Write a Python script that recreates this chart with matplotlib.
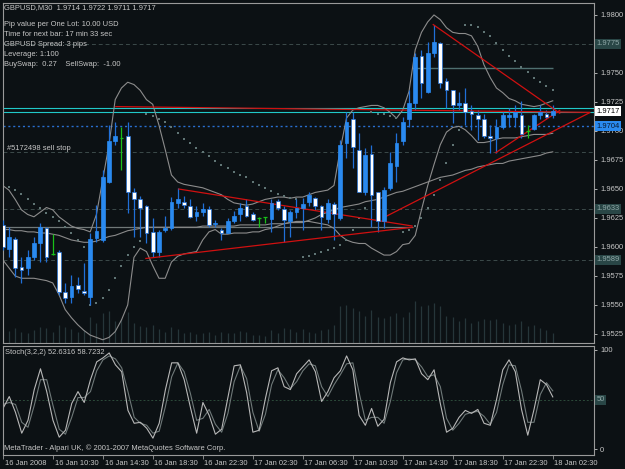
"""MetaTrader 4 style GBPUSD M30 chart with Bollinger bands, SAR and Stoch(3,2,2)."""
import matplotlib
matplotlib.use("Agg")
import matplotlib.pyplot as plt
import matplotlib.transforms as mtrans
import numpy as np

# ---------------------------------------------------------------------------
# Data (one value per M30 bar, bar 0 = 16 Jan 06:30)
# ---------------------------------------------------------------------------
OPEN = [1.9619, 1.9598, 1.9607, 1.9583, 1.9582, 1.9591, 1.9603, 1.9616, 1.9594, 1.9596,
        1.9561, 1.9557, 1.9567, 1.9562, 1.9557, 1.9608, 1.9606, 1.9656, 1.9691, 1.9694,
        1.9696, 1.9647, 1.9641, 1.9635, 1.9613, 1.9596, 1.9615, 1.9616, 1.9638, 1.9639,
        1.9635, 1.9627, 1.9630, 1.9633, 1.9620, 1.9615, 1.9612, 1.9622, 1.9628, 1.9635,
        1.9628, 1.9625, 1.9626, 1.9624, 1.9640, 1.9633, 1.9622, 1.9630, 1.9634, 1.9639,
        1.9642, 1.9635, 1.9624, 1.9637, 1.9625, 1.9690, 1.9710, 1.9684, 1.9647, 1.9680,
        1.9647, 1.9622, 1.9651, 1.9670, 1.9691, 1.9710, 1.9724, 1.9765, 1.9734, 1.9767,
        1.9776, 1.9743, 1.9735, 1.9722, 1.9724, 1.9717, 1.9714, 1.9710, 1.9696, 1.9694,
        1.9703, 1.9712, 1.9712, 1.9714, 1.9700, 1.9702, 1.9714, 1.9715, 1.9714]
HIGH = [1.9623, 1.9617, 1.9609, 1.9591, 1.9597, 1.9609, 1.9621, 1.9617, 1.9611, 1.9597,
        1.9569, 1.9576, 1.9574, 1.9586, 1.9612, 1.9636, 1.9666, 1.9705, 1.9708, 1.9703,
        1.9708, 1.9651, 1.9644, 1.9636, 1.9625, 1.9615, 1.9627, 1.9643, 1.9651, 1.9644,
        1.9641, 1.9635, 1.9638, 1.9635, 1.9623, 1.9616, 1.9625, 1.9631, 1.9638, 1.9641,
        1.9630, 1.9626, 1.9626, 1.9641, 1.9641, 1.9635, 1.9632, 1.9641, 1.9642, 1.9647,
        1.9643, 1.9636, 1.9641, 1.9639, 1.9692, 1.9716, 1.9716, 1.9698, 1.9685, 1.9688,
        1.9647, 1.9652, 1.9682, 1.9698, 1.9712, 1.9735, 1.9767, 1.9770, 1.9777, 1.9791,
        1.9777, 1.9746, 1.9735, 1.9734, 1.9737, 1.9722, 1.9718, 1.9715, 1.9705, 1.9710,
        1.9716, 1.9720, 1.9722, 1.9726, 1.9705, 1.9715, 1.9722, 1.9718, 1.9722]
LOW = [1.9597, 1.9591, 1.9574, 1.9569, 1.9576, 1.9589, 1.9587, 1.9587, 1.9593, 1.9559,
       1.9552, 1.9552, 1.9560, 1.9559, 1.9550, 1.9604, 1.9604, 1.9655, 1.9688, 1.9666,
       1.9629, 1.9609, 1.9609, 1.9603, 1.9591, 1.9591, 1.9613, 1.9615, 1.9634, 1.9634,
       1.9625, 1.9622, 1.9627, 1.9617, 1.9617, 1.9606, 1.9612, 1.9621, 1.9622, 1.9626,
       1.9622, 1.9617, 1.9621, 1.9613, 1.9632, 1.9604, 1.9609, 1.9625, 1.9615, 1.9635,
       1.9632, 1.9615, 1.9621, 1.9606, 1.9623, 1.9677, 1.9668, 1.9647, 1.9645, 1.9617,
       1.9613, 1.9616, 1.9649, 1.9656, 1.9688, 1.9703, 1.9718, 1.9728, 1.9733, 1.9764,
       1.9737, 1.9720, 1.9707, 1.9718, 1.9705, 1.9701, 1.9692, 1.9694, 1.9681, 1.9681,
       1.9702, 1.9703, 1.9703, 1.9694, 1.9694, 1.9701, 1.9710, 1.9710, 1.9711]
CLOSE = [1.9600, 1.9609, 1.9582, 1.9580, 1.9591, 1.9603, 1.9617, 1.9591, 1.9594, 1.9561,
         1.9556, 1.9566, 1.9564, 1.9560, 1.9607, 1.9614, 1.9660, 1.9691, 1.9696, 1.9694,
         1.9647, 1.9641, 1.9634, 1.9612, 1.9596, 1.9613, 1.9616, 1.9639, 1.9641, 1.9636,
         1.9626, 1.9630, 1.9633, 1.9619, 1.9621, 1.9612, 1.9622, 1.9627, 1.9634, 1.9627,
         1.9623, 1.9625, 1.9626, 1.9638, 1.9634, 1.9623, 1.9630, 1.9634, 1.9637, 1.9645,
         1.9635, 1.9626, 1.9638, 1.9628, 1.9688, 1.9708, 1.9686, 1.9647, 1.9679, 1.9645,
         1.9622, 1.9649, 1.9672, 1.9690, 1.9708, 1.9724, 1.9764, 1.9741, 1.9767, 1.9777,
         1.9741, 1.9735, 1.9722, 1.9724, 1.9716, 1.9715, 1.9710, 1.9696, 1.9694, 1.9703,
         1.9714, 1.9714, 1.9716, 1.9697, 1.9700, 1.9714, 1.9716, 1.9712, 1.9717]
VOLUME = [310, 280, 350, 260, 240, 300, 380, 360, 270, 420, 380, 330, 250, 300, 620, 480, 700, 760,
          520, 560, 720, 480, 400, 380, 420, 330, 260, 380, 340, 240, 260, 220, 230, 270, 200, 260,
          240, 230, 280, 260, 200, 180, 160, 300, 230, 360, 320, 250, 330, 260, 230, 300, 340, 420,
          860, 900, 820, 760, 640, 780, 620, 600, 640, 700, 620, 720, 980, 860, 900, 940, 860, 640,
          620, 520, 600, 460, 520, 560, 540, 560, 480, 420, 440, 520, 400, 420, 360, 300, 240]

BB_UPPER = [1.9653, 1.9649, 1.9641, 1.9632, 1.9628, 1.9626, 1.9630, 1.9634, 1.9632, 1.9626,
            1.9622, 1.9618, 1.9616, 1.9615, 1.9613, 1.9628, 1.9658, 1.9688, 1.9727, 1.9737,
            1.9742, 1.9740, 1.9735, 1.9727, 1.9723, 1.9705, 1.9684, 1.9662, 1.9656, 1.9654,
            1.9653, 1.9652, 1.9651, 1.9649, 1.9647, 1.9645, 1.9641, 1.9638, 1.9637, 1.9636,
            1.9637, 1.9639, 1.9641, 1.9642, 1.9643, 1.9643, 1.9642, 1.9643, 1.9643, 1.9645,
            1.9647, 1.9648, 1.9649, 1.9653, 1.9684, 1.9711, 1.9718, 1.9720, 1.9721, 1.9722,
            1.9722, 1.9720, 1.9716, 1.9711, 1.9718, 1.9734, 1.9770, 1.9785, 1.9794, 1.9800,
            1.9796, 1.9789, 1.9785, 1.9784, 1.9784, 1.9782, 1.9773, 1.9757, 1.9746, 1.9737,
            1.9733, 1.9728, 1.9726, 1.9723, 1.9722, 1.9721, 1.9722, 1.9724, 1.9726]
BB_LOWER = [1.9589, 1.9582, 1.9575, 1.9573, 1.9573, 1.9573, 1.9572, 1.9571, 1.9569, 1.9559,
            1.9546, 1.9539, 1.9533, 1.9528, 1.9524, 1.9522, 1.9520, 1.9522, 1.9527, 1.9537,
            1.9550, 1.9591, 1.9599, 1.9596, 1.9584, 1.9573, 1.9573, 1.9587, 1.9592, 1.9594,
            1.9595, 1.9596, 1.9606, 1.9613, 1.9615, 1.9611, 1.9611, 1.9612, 1.9612, 1.9612,
            1.9613, 1.9613, 1.9615, 1.9616, 1.9618, 1.9620, 1.9621, 1.9622, 1.9622, 1.9622,
            1.9621, 1.9620, 1.9619, 1.9616, 1.9610, 1.9606, 1.9604, 1.9603, 1.9603, 1.9599,
            1.9596, 1.9593, 1.9593, 1.9596, 1.9602, 1.9603, 1.9610, 1.9632, 1.9653, 1.9671,
            1.9688, 1.9699, 1.9703, 1.9704, 1.9701, 1.9696, 1.9690, 1.9690, 1.9691, 1.9693,
            1.9694, 1.9694, 1.9694, 1.9695, 1.9696, 1.9697, 1.9697, 1.9697, 1.9698]
MA_SLOW = [1.9615, 1.9615, 1.9614, 1.9614, 1.9613, 1.9613, 1.9612, 1.9612, 1.9611, 1.9610,
           1.9608, 1.9606, 1.9605, 1.9604, 1.9604, 1.9605, 1.9607, 1.9609, 1.9610, 1.9612,
           1.9614, 1.9615, 1.9616, 1.9617, 1.9617, 1.9617, 1.9617, 1.9617, 1.9617, 1.9617,
           1.9617, 1.9617, 1.9618, 1.9618, 1.9618, 1.9618, 1.9618, 1.9618, 1.9619, 1.9619,
           1.9619, 1.9619, 1.9619, 1.9620, 1.9620, 1.9620, 1.9621, 1.9621, 1.9621, 1.9623,
           1.9625, 1.9628, 1.9630, 1.9632, 1.9634, 1.9635, 1.9636, 1.9637, 1.9639, 1.9640,
           1.9641, 1.9643, 1.9645, 1.9647, 1.9648, 1.9650, 1.9652, 1.9654, 1.9656, 1.9658,
           1.9660, 1.9661, 1.9662, 1.9664, 1.9666, 1.9667, 1.9669, 1.9670, 1.9671, 1.9672,
           1.9672, 1.9674, 1.9675, 1.9676, 1.9677, 1.9678, 1.9679, 1.9681, 1.9682]
SAR = [1.9653, 1.9652, 1.9649, 1.9646, 1.9641, 1.9637, 1.9634, 1.9629, 1.9626, 1.9622,
       1.9617, 1.9612, 1.9606, 1.9600, 1.9550, 1.9552, 1.9556, 1.9563, 1.9573, 1.9584,
       1.9593, 1.9600, 1.9605, 1.9715, 1.9713, 1.9710, 1.9708, 1.9703, 1.9698, 1.9693,
       1.9690, 1.9685, 1.9682, 1.9678, 1.9674, 1.9671, 1.9668, 1.9665, 1.9662, 1.9660,
       1.9656, 1.9653, 1.9651, 1.9648, 1.9646, 1.9644, 1.9642, 1.9641, 1.9591, 1.9592,
       1.9594, 1.9596, 1.9597, 1.9599, 1.9602, 1.9606, 1.9615, 1.9625, 1.9634, 1.9716,
       1.9715, 1.9715, 1.9713, 1.9711, 1.9613, 1.9615, 1.9618, 1.9625, 1.9634, 1.9645,
       1.9658, 1.9672, 1.9688, 1.9701, 1.9791, 1.9791, 1.9790, 1.9785, 1.9782, 1.9776,
       1.9770, 1.9765, 1.9760, 1.9755, 1.9751, 1.9746, 1.9742, 1.9739, 1.9735]

STOCH_MAIN = [41, 53, 37, 16, 29, 60, 81, 58, 29, 12, 19, 46, 58, 47, 70, 88, 92, 97, 85, 78,
              39, 26, 27, 21, 11, 26, 60, 87, 87, 70, 42, 16, 47, 34, 15, 20, 52, 84, 85, 57,
              17, 19, 51, 79, 82, 63, 60, 76, 83, 90, 78, 48, 58, 72, 79, 94, 80, 34, 24, 41,
              23, 30, 67, 88, 92, 90, 91, 76, 70, 80, 46, 17, 21, 32, 39, 36, 40, 26, 24, 50,
              80, 90, 78, 40, 14, 40, 70, 65, 52.6316]
STOCH_SIGNAL = [45, 47, 45, 27, 22, 44, 70, 70, 44, 20, 15, 32, 52, 52, 58, 79, 90, 94, 91, 82,
                58, 32, 26, 24, 16, 18, 43, 73, 87, 78, 56, 29, 31, 40, 25, 17, 36, 68, 84, 71,
                37, 18, 35, 65, 80, 72, 61, 68, 79, 86, 84, 63, 53, 65, 75, 86, 87, 57, 29, 32,
                32, 26, 48, 77, 90, 91, 90, 83, 73, 75, 63, 31, 19, 26, 35, 37, 38, 33, 25, 37,
                65, 85, 84, 59, 27, 27, 55, 67, 58.7232]

TIME_LABELS = ["16 Jan 2008", "16 Jan 10:30", "16 Jan 14:30", "16 Jan 18:30", "16 Jan 22:30",
               "17 Jan 02:30", "17 Jan 06:30", "17 Jan 10:30", "17 Jan 14:30", "17 Jan 18:30",
               "17 Jan 22:30", "18 Jan 02:30"]
TIME_LABEL_BARS = [0, 8, 16, 24, 32, 40, 48, 56, 64, 72, 80, 88]

PRICE_TICKS = [1.9525, 1.9550, 1.9575, 1.9600, 1.9625, 1.9650, 1.9675, 1.9700, 1.9725, 1.9750, 1.9800]

# user drawn trendlines: (bar0, price0, bar1, price1)
TRENDLINES = [
    (18.0, 1.9721, 94.0, 1.9716),
    (22.8, 1.9590, 65.6, 1.9617),
    (28.1, 1.9650, 65.6, 1.9618),
    (68.8, 1.9792, 89.2, 1.9715),
    (61.2, 1.9626, 94.0, 1.9716),
    (78.8, 1.9681, 89.2, 1.9718),
]
DASHED_LEVELS = [1.9775, 1.9682, 1.9633, 1.9589]
BOXED_LEVELS = [1.9775, 1.9633, 1.9589]
CYAN_LEVELS = [1.9720, 1.9716]
SELL_STOP = 1.9704
BID = 1.9717

INFO_LINES = ["Pip value per One Lot: 10.00 USD",
              "Time for next bar: 17 min 33 sec",
              "GBPUSD Spread: 3 pips",
              "Leverage: 1:100",
              "BuySwap:  0.27    SellSwap:  -1.00"]

# ---------------------------------------------------------------------------
# Style
# ---------------------------------------------------------------------------
BG = "#0c1114"
FG = "#c8c8c8"
FRAME = "#9a9a9a"
BULL = "#2a8af0"
WICK = "#2070d8"
BEAR = "#ffffff"
DOJI = "#18c018"
BAND = "#8c8c8c"
RED = "#d01010"
CYAN = "#20c8c8"
FS = 5.4

plt.rcParams["font.family"] = ["Liberation Sans", "DejaVu Sans"]
W, H = 625, 469
fig = plt.figure(figsize=(W / 100, H / 100), dpi=100, facecolor=BG)


def px_axes(left, top, right, bottom):
    ax = fig.add_axes([left / W, 1 - bottom / H, (right - left) / W, (bottom - top) / H])
    ax.set_facecolor(BG)
    for s in ax.spines.values():
        s.set_color(FRAME)
        s.set_linewidth(0.8)
    return ax


ax = px_axes(3, 3, 594, 343)
st = px_axes(3, 346, 594, 455)

n = len(CLOSE)
idx = np.arange(n)
XLIM = (0.05, 94.6)

# ---------------------------------------------------------------------------
# Main pane
# ---------------------------------------------------------------------------
# volumes drawn as faint lines from the bottom of the price pane
vol = ax.twinx()
vol.set_ylim(0, 8000)
vol.set_xlim(*XLIM)
vol.vlines(idx, 0, VOLUME, color="#26363a", lw=0.9)
vol.set_yticks([])
vol.axis("off")

ax.set_zorder(vol.get_zorder() + 1)
ax.patch.set_visible(False)
fig.patch.set_facecolor(BG)

ax.set_xlim(*XLIM)
ax.set_ylim(1.95172, 1.98103)

for lv in DASHED_LEVELS:
    ax.axhline(lv, color="#3c4a4a", lw=0.7, ls=(0, (4, 3)), zorder=1)
ax.axhline(SELL_STOP, color="#2a6fd0", lw=1.0, ls=(0, (1.5, 2)), zorder=1)
for lv in CYAN_LEVELS:
    ax.axhline(lv, color=CYAN, lw=0.8, zorder=1)
ax.hlines(1.9754, 65.5, 88, color="#4f7070", lw=1.0, zorder=1)
ax.hlines(1.9617, XLIM[0], 65.6, color="#707878", lw=0.9, zorder=1)

ax.plot(idx, BB_UPPER, color=BAND, lw=0.8, zorder=2)
ax.plot(idx, BB_LOWER, color=BAND, lw=0.8, zorder=2)
ax.plot(idx, MA_SLOW, color="#8a8a8a", lw=0.8, zorder=2)
ax.scatter(idx, SAR, s=4, color="#607575", marker="s", lw=0, zorder=2)

o, h, l, c = map(np.array, (OPEN, HIGH, LOW, CLOSE))
doji = np.isclose(o, c)
up = (c > o) & ~doji
dn = (c < o) & ~doji
ax.vlines(idx[~doji], l[~doji], h[~doji], color=WICK, lw=0.9, zorder=3)
ax.bar(idx[up], (c - o)[up], bottom=o[up], width=0.62, color=BULL, edgecolor=BULL, lw=0.5, zorder=4)
ax.bar(idx[dn], (o - c)[dn], bottom=c[dn], width=0.62, color=BEAR, edgecolor=WICK, lw=0.5, zorder=4)
ax.vlines(idx[doji], l[doji], h[doji], color=DOJI, lw=0.9, zorder=4)
ax.hlines(o[doji], idx[doji] - 0.3, idx[doji] + 0.3, color=DOJI, lw=0.9, zorder=4)

for b0, p0, b1, p1 in TRENDLINES:
    ax.plot([b0, b1], [p0, p1], color=RED, lw=0.9, zorder=3, solid_capstyle="butt")

ax.set_xticks([])
ax.yaxis.tick_right()
ax.set_yticks(PRICE_TICKS)
ax.set_yticklabels([f"{p:.4f}" for p in PRICE_TICKS])
ax.tick_params(axis="y", colors=FG, labelsize=FS, length=2.5, width=0.6, pad=2)

ytrans = mtrans.blended_transform_factory(ax.transAxes, ax.transData)
for lv in BOXED_LEVELS:
    ax.text(1.004, lv, f"{lv:.4f}", transform=ytrans, fontsize=FS, color="#90a8a8", va="center",
            ha="left", bbox=dict(boxstyle="square,pad=0.2", fc="#294646", ec="none"), zorder=6,
            clip_on=False)
ax.text(1.004, BID, f"{BID:.4f}", transform=ytrans, fontsize=FS, color="black", va="center",
        ha="left", bbox=dict(boxstyle="square,pad=0.2", fc="white", ec="none"), clip_on=False)
ax.text(1.004, SELL_STOP, f"{SELL_STOP:.4f}", transform=ytrans, fontsize=FS, color="#0a1a30",
        va="center", ha="left", bbox=dict(boxstyle="square,pad=0.2", fc="#2a8af0", ec="none"),
        clip_on=False)

fig.text(4 / W, 1 - 8 / H, "GBPUSD,M30  1.9714 1.9722 1.9711 1.9717", fontsize=FS, color=FG,
         va="center")
for k, line in enumerate(INFO_LINES):
    fig.text(4 / W, 1 - (24 + 10.2 * k) / H, line, fontsize=FS, color=FG, va="center")
fig.text(7 / W, 1 - 148 / H, "#5172498 sell stop", fontsize=FS, color=FG, va="center")

# ---------------------------------------------------------------------------
# Stochastic pane
# ---------------------------------------------------------------------------
st.set_xlim(*XLIM)
st.set_ylim(-6, 104)
st.axhline(50, color="#2c4a3a", lw=0.7, ls=(0, (2, 2)))
st.plot(idx, STOCH_SIGNAL, color="#6e7878", lw=0.8)
st.plot(idx, STOCH_MAIN, color="#b8b8b8", lw=0.8)
st.yaxis.tick_right()
st.set_yticks([0, 100])
st.set_yticklabels(["0", "100"])
st.tick_params(axis="y", colors=FG, labelsize=FS, length=2.5, width=0.6, pad=2)
st.text(1.004, 50, "50", transform=mtrans.blended_transform_factory(st.transAxes, st.transData),
        fontsize=FS, color="#90a8a8", va="center", ha="left",
        bbox=dict(boxstyle="square,pad=0.2", fc="#294646", ec="none"), clip_on=False)
fig.text(5 / W, 1 - 353 / H, "Stoch(3,2,2) 52.6316 58.7232", fontsize=FS, color=FG, va="center")
fig.text(4 / W, 1 - 448 / H, "MetaTrader - Alpari UK, \u00a9 2001-2007 MetaQuotes Software Corp.",
         fontsize=FS, color=FG, va="center")

st.set_xticks(TIME_LABEL_BARS)
st.set_xticklabels([])
st.tick_params(axis="x", colors=FRAME, length=3, width=0.6, direction="out")
xtrans = mtrans.blended_transform_factory(st.transData, fig.transFigure)
for b, lab in zip(TIME_LABEL_BARS, TIME_LABELS):
    st.text(b + 0.25, 1 - 463 / H, lab, transform=xtrans, fontsize=FS, color=FG, va="center",
            ha="left", clip_on=False)

fig.savefig("out.png", dpi=100, facecolor=BG)
